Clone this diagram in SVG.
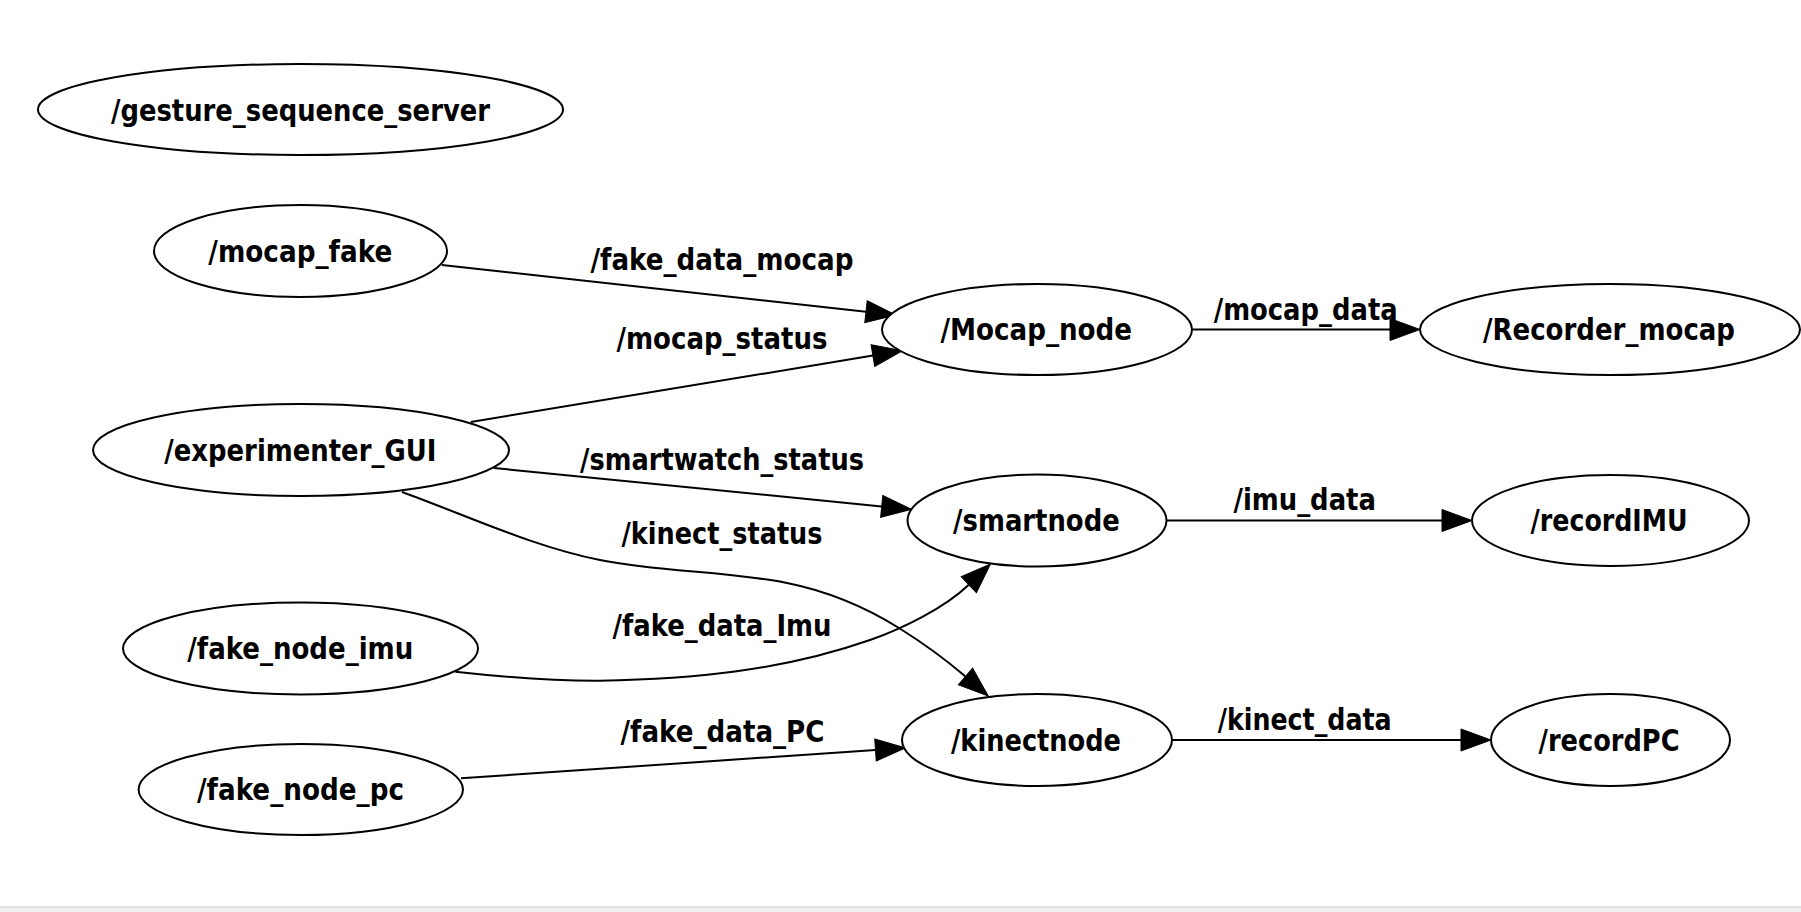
<svg xmlns="http://www.w3.org/2000/svg" width="1801" height="912" viewBox="0 0 1801 912">
<defs>
<style>
.node ellipse{fill:#ffffff;stroke:#000000;stroke-width:2}
.lbl{font-family:"DejaVu Sans","Liberation Sans",sans-serif;font-weight:bold;font-size:30px;fill:#000000;text-anchor:middle;font-stretch:condensed}
.edge{fill:none;stroke:#000000;stroke-width:2;marker-end:url(#arrow)}
</style>
<marker id="arrow" markerUnits="userSpaceOnUse" markerWidth="32" markerHeight="24" viewBox="-1 -1 32 24" refX="0" refY="11" orient="auto">
<path d="M0,0 L30,11 L0,22 z" fill="#000000" stroke="#000000" stroke-width="1"/>
</marker>
</defs>
<rect x="0" y="0" width="1801" height="912" fill="#ffffff"/>
<rect x="0" y="907" width="1801" height="5" fill="#f0f0f0"/>
<line x1="0" y1="907" x2="1801" y2="907" stroke="#cfcfcf" stroke-width="1"/>

<g id="connectors">
<path class="edge" d="M442,265 L866,311.7"/>
<path class="edge" d="M470.7,422 L872.9,355.6"/>
<path class="edge" d="M493.7,468 L881.7,506.4"/>
<path class="edge" d="M402,492 C468,516 534,547 600,560 C662,572.4 725,570.6 787,583 C824,590.4 862,605 899,628 C921,641.75 946.5,660.25 965.5,676.5"/>
<path class="edge" d="M455.4,671.7 C503,677 552,681 600,680.7 C690,679 780,671.5 870,640 C903,628.5 945,607.5 968.8,584.7"/>
<path class="edge" d="M461,778.3 L875.5,750"/>
<path class="edge" d="M1192,329.5 L1390,329.5"/>
<path class="edge" d="M1166.5,520.5 L1442,520.5"/>
<path class="edge" d="M1172,740 L1461,740"/>
<text class="lbl" x="722" y="270" textLength="263" lengthAdjust="spacingAndGlyphs">/fake_data_mocap</text>
<text class="lbl" x="722" y="348.5" textLength="211" lengthAdjust="spacingAndGlyphs">/mocap_status</text>
<text class="lbl" x="722" y="470" textLength="284" lengthAdjust="spacingAndGlyphs">/smartwatch_status</text>
<text class="lbl" x="722" y="543.5" textLength="201" lengthAdjust="spacingAndGlyphs">/kinect_status</text>
<text class="lbl" x="722" y="636" textLength="219" lengthAdjust="spacingAndGlyphs">/fake_data_Imu</text>
<text class="lbl" x="722.5" y="741.5" textLength="204" lengthAdjust="spacingAndGlyphs">/fake_data_PC</text>
<text class="lbl" x="1305.7" y="320" textLength="184" lengthAdjust="spacingAndGlyphs">/mocap_data</text>
<text class="lbl" x="1304.7" y="509.5" textLength="142.5" lengthAdjust="spacingAndGlyphs">/imu_data</text>
<text class="lbl" x="1304.7" y="729.5" textLength="174" lengthAdjust="spacingAndGlyphs">/kinect_data</text>
</g>

<g id="gesture_sequence_server" class="node">
<ellipse cx="300.5" cy="109.5" rx="262.5" ry="45.5"/>
<text class="lbl" x="300.5" y="120.5" textLength="379" lengthAdjust="spacingAndGlyphs">/gesture_sequence_server</text>
</g>
<g id="mocap_fake" class="node">
<ellipse cx="300.5" cy="251" rx="146.5" ry="46"/>
<text class="lbl" x="300.3" y="261.5" textLength="184" lengthAdjust="spacingAndGlyphs">/mocap_fake</text>
</g>
<g id="experimenter_GUI" class="node">
<ellipse cx="301" cy="450" rx="208" ry="46"/>
<text class="lbl" x="300.3" y="460.5" textLength="272" lengthAdjust="spacingAndGlyphs">/experimenter_GUI</text>
</g>
<g id="fake_node_imu" class="node">
<ellipse cx="300.5" cy="648.5" rx="177.5" ry="46"/>
<text class="lbl" x="300.3" y="659" textLength="226" lengthAdjust="spacingAndGlyphs">/fake_node_imu</text>
</g>
<g id="fake_node_pc" class="node">
<ellipse cx="300.8" cy="789.5" rx="162.2" ry="45.5"/>
<text class="lbl" x="300.5" y="800" textLength="207" lengthAdjust="spacingAndGlyphs">/fake_node_pc</text>
</g>
<g id="Mocap_node" class="node">
<ellipse cx="1037" cy="329.5" rx="155" ry="45.5"/>
<text class="lbl" x="1036.3" y="340" textLength="191.5" lengthAdjust="spacingAndGlyphs">/Mocap_node</text>
</g>
<g id="smartnode" class="node">
<ellipse cx="1037" cy="520.5" rx="129.5" ry="46"/>
<text class="lbl" x="1036.4" y="531" textLength="166.6" lengthAdjust="spacingAndGlyphs">/smartnode</text>
</g>
<g id="kinectnode" class="node">
<ellipse cx="1037" cy="740" rx="135" ry="46"/>
<text class="lbl" x="1036" y="750.5" textLength="170" lengthAdjust="spacingAndGlyphs">/kinectnode</text>
</g>
<g id="Recorder_mocap" class="node">
<ellipse cx="1610" cy="329.5" rx="190" ry="45.5"/>
<text class="lbl" x="1609" y="340" textLength="252" lengthAdjust="spacingAndGlyphs">/Recorder_mocap</text>
</g>
<g id="recordIMU" class="node">
<ellipse cx="1610.5" cy="520.5" rx="138.5" ry="45.5"/>
<text class="lbl" x="1609" y="531" textLength="157" lengthAdjust="spacingAndGlyphs">/recordIMU</text>
</g>
<g id="recordPC" class="node">
<ellipse cx="1610.5" cy="740" rx="119.5" ry="46"/>
<text class="lbl" x="1609" y="750.5" textLength="141" lengthAdjust="spacingAndGlyphs">/recordPC</text>
</g>
</svg>
